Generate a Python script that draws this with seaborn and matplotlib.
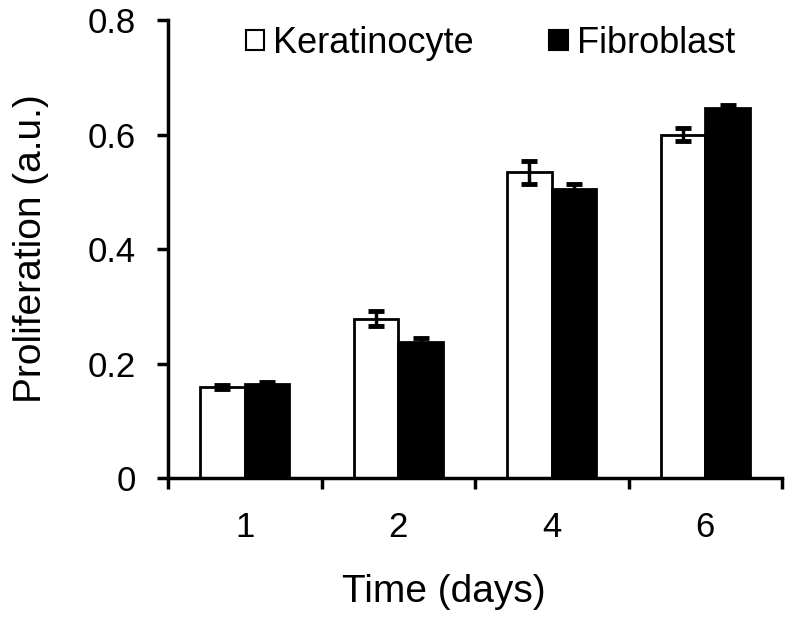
import pandas as pd
import matplotlib
matplotlib.use("Agg")
import matplotlib.pyplot as plt
import seaborn as sns

days = ['1', '2', '4', '6']
kerat = [0.159, 0.278, 0.534, 0.600]
fibro = [0.164, 0.238, 0.505, 0.646]
kerat_err = [0.003, 0.013, 0.020, 0.011]
fibro_err = [0.003, 0.006, 0.009, 0.005]

data = pd.DataFrame({
    'day': days * 2,
    'cell': ['Keratinocyte'] * 4 + ['Fibroblast'] * 4,
    'prolif': kerat + fibro,
    'err': kerat_err + fibro_err,
})

sns.set_style("ticks")
plt.rcParams['font.family'] = ['Liberation Sans', 'DejaVu Sans']
plt.rcParams['text.color'] = 'black'
plt.rcParams['axes.labelcolor'] = 'black'
plt.rcParams['xtick.color'] = 'black'
plt.rcParams['ytick.color'] = 'black'

fig = plt.figure(figsize=(8, 6.25), dpi=100)
ax = fig.add_axes([0.21, 0.235, 0.7675, 0.733])

sns.barplot(x='day', y='prolif', hue='cell', data=data, order=days,
            hue_order=['Keratinocyte', 'Fibroblast'],
            palette=['white', 'black'], edgecolor='black', linewidth=2,
            width=0.58, errorbar=None, ax=ax)

# error bars on bar centres
bars = [p for p in ax.patches if p.get_height() > 0][:8]
for p, e in zip(bars, kerat_err + fibro_err):
    ax.errorbar(p.get_x() + p.get_width() / 2, p.get_height(), yerr=e,
                fmt='none', ecolor='black', elinewidth=2.5, capsize=5.5,
                capthick=3.5, zorder=5)

ax.set_ylim(0, 0.8)
ax.set_xlim(-0.5, 3.5)
ax.set_yticks([0, 0.2, 0.4, 0.6, 0.8])
ax.set_yticklabels(['0', '0.2', '0.4', '0.6', '0.8'])
ax.set_xticks([-0.5, 0.5, 1.5, 2.5, 3.5], minor=True)
ax.tick_params(axis='x', which='major', bottom=True, length=0, pad=24, labelsize=25)
ax.tick_params(axis='x', which='minor', bottom=True, length=8, width=2.5,
               direction='out')
ax.tick_params(axis='y', left=True, length=8, width=2.5, direction='out',
               pad=15, labelsize=25)
sns.despine(ax=ax)
for s in ['left', 'bottom']:
    ax.spines[s].set_linewidth(2.5)
    ax.spines[s].set_color('black')

ax.set_xlabel('Time (days)', fontsize=28)
ax.set_ylabel('Proliferation (a.u.)', fontsize=28, labelpad=28)
ax.xaxis.set_label_coords(0.45, -0.21)

leg = ax.legend(loc='upper center', bbox_to_anchor=(0.525, 1.058), ncol=2,
                frameon=False, fontsize=26, handlelength=0.5, handleheight=0.5,
                handletextpad=0.25, columnspacing=2.1)
for h in leg.legend_handles:
    h.set_linewidth(1.5)

fig.savefig('out.png', dpi=100)
